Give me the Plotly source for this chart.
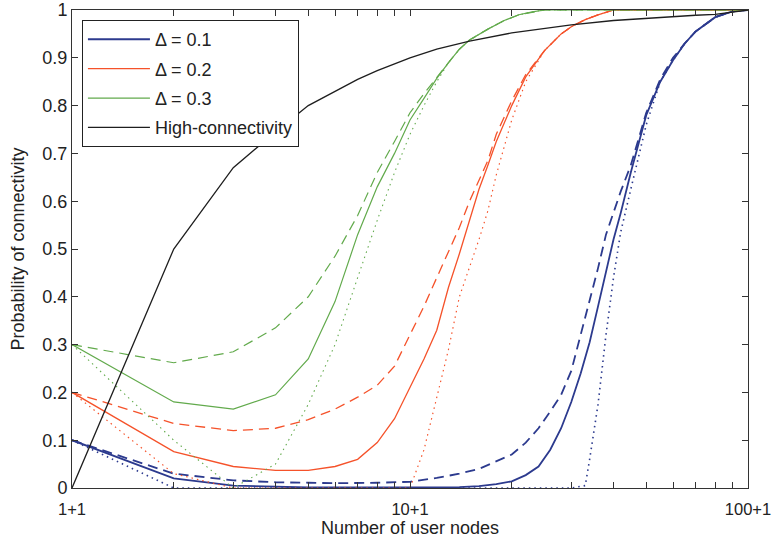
import plotly.graph_objects as go

# ---------------- data ----------------
hc_x = [1, 2, 3, 4, 5, 6, 7, 8, 9, 10, 12, 15, 20, 25, 30, 40, 50, 60, 70, 80, 90, 100]
hc_y = [0, 0.50, 0.67, 0.745, 0.80, 0.83, 0.855, 0.873, 0.888, 0.90, 0.918, 0.935,
        0.952, 0.962, 0.969, 0.978, 0.983, 0.986, 0.989, 0.991, 0.995, 1.0]

b_x = [1, 2, 3, 4, 5, 6, 8, 10, 12, 14, 16, 18, 20, 22, 24, 26, 28, 30, 32, 34, 36, 38,
       40, 42, 45, 50, 55, 60, 65, 70, 80, 90, 100]
b_solid = [0.1, 0.02, 0.005, 0.002, 0.001, 0.001, 0.001, 0.001, 0.001, 0.002, 0.004, 0.008,
           0.014, 0.027, 0.045, 0.08, 0.125, 0.18, 0.24, 0.305, 0.38, 0.455, 0.52, 0.575,
           0.66, 0.78, 0.85, 0.895, 0.93, 0.955, 0.985, 0.997, 1.0]
b_dash = [0.1, 0.03, 0.016, 0.012, 0.011, 0.010, 0.011, 0.013, 0.021, 0.03, 0.04, 0.055,
          0.07, 0.095, 0.125, 0.16, 0.195, 0.245, 0.32, 0.39, 0.46, 0.53, 0.575, 0.62,
          0.675, 0.785, 0.855, 0.9, 0.93, 0.955, 0.985, 0.997, 1.0]
b_dot_x = [1, 2, 4, 8, 16, 24, 30, 33, 34, 36, 38, 40, 42, 45, 50, 55, 60, 65, 70, 80, 90, 100]
b_dot = [0.1, 0, 0, 0, 0, 0, 0, 0.005, 0.06, 0.175, 0.32, 0.44, 0.535, 0.625, 0.76, 0.85,
         0.895, 0.93, 0.955, 0.985, 0.997, 1.0]

r_x = [1, 2, 3, 4, 5, 6, 7, 8, 9, 10, 11, 12, 13, 14, 15, 16, 17, 18, 20, 22, 25, 28, 30,
       33, 36, 40, 50, 60, 80, 100]
r_solid = [0.2, 0.076, 0.045, 0.037, 0.037, 0.045, 0.06, 0.095, 0.145, 0.21, 0.27, 0.33,
           0.42, 0.49, 0.56, 0.625, 0.675, 0.725, 0.80, 0.86, 0.915, 0.95, 0.965, 0.98,
           0.99, 1.0, 1.0, 1.0, 1.0, 1.0]
r_dash = [0.2, 0.135, 0.12, 0.125, 0.143, 0.165, 0.19, 0.215, 0.255, 0.32, 0.38, 0.44,
          0.495, 0.545, 0.60, 0.645, 0.685, 0.74, 0.81, 0.865, 0.915, 0.95, 0.965, 0.98,
          0.99, 1.0, 1.0, 1.0, 1.0, 1.0]
r_dot = [0.2, 0.03, 0, 0, 0, 0, 0, 0, 0, 0, 0.08, 0.19, 0.29, 0.40, 0.46, 0.52, 0.58,
         0.655, 0.77, 0.85, 0.915, 0.95, 0.965, 0.98, 0.99, 1.0, 1.0, 1.0, 1.0, 1.0]

g_x = [1, 2, 3, 4, 5, 6, 7, 8, 9, 10, 11, 12, 13, 14, 15, 17, 19, 21, 23, 25, 30, 50, 100]
g_solid = [0.3, 0.18, 0.165, 0.195, 0.27, 0.39, 0.53, 0.63, 0.70, 0.77, 0.815, 0.857,
           0.89, 0.918, 0.937, 0.96, 0.978, 0.99, 0.996, 1.0, 1.0, 1.0, 1.0]
g_dash = [0.3, 0.262, 0.285, 0.335, 0.40, 0.485, 0.57, 0.66, 0.725, 0.785, 0.825, 0.86,
          0.89, 0.918, 0.937, 0.96, 0.978, 0.99, 0.996, 1.0, 1.0, 1.0, 1.0]
g_dot = [0.3, 0.1, 0, 0.05, 0.175, 0.30, 0.44, 0.56, 0.66, 0.74, 0.80, 0.85,
         0.89, 0.918, 0.937, 0.96, 0.978, 0.99, 0.996, 1.0, 1.0, 1.0, 1.0]

x_tickvals = [1, 10, 100]
x_ticktext = ["1+1", "10+1", "100+1"]
y_tickvals = [0, 0.1, 0.2, 0.3, 0.4, 0.5, 0.6, 0.7, 0.8, 0.9, 1]
y_ticktext = ["0", "0.1", "0.2", "0.3", "0.4", "0.5", "0.6", "0.7", "0.8", "0.9", "1"]

BLUE = "#2c3a8e"
RED = "#f5522a"
GREEN = "#62aa4c"
BLACK = "#1e1e1e"

FONT = "Liberation Sans, Arial, sans-serif"

fig = go.Figure()

series = [
    ("Δ = 0.1", BLUE, 1.8, b_x, b_solid, b_dash, b_dot_x, b_dot),
    ("Δ = 0.2", RED, 1.3, r_x, r_solid, r_dash, r_x, r_dot),
    ("Δ = 0.3", GREEN, 1.2, g_x, g_solid, g_dash, g_x, g_dot),
]

for i, (name, col, w, xs, ys, yd, xdot, ydot) in enumerate(series):
    grp = f"g{i}"
    fig.add_trace(go.Scatter(x=xdot, y=ydot, mode="lines", showlegend=False, legendgroup=grp,
                             line=dict(color=col, width=w * 0.9, dash="1.5px,4px"), hoverinfo="skip"))
    fig.add_trace(go.Scatter(x=xs, y=yd, mode="lines", showlegend=False, legendgroup=grp,
                             line=dict(color=col, width=w, dash="10px,6px"), hoverinfo="skip"))
    fig.add_trace(go.Scatter(x=xs, y=ys, mode="lines", name=name, legendgroup=grp,
                             line=dict(color=col, width=w)))

fig.add_trace(go.Scatter(x=hc_x, y=hc_y, mode="lines", name="High-connectivity",
                         legendgroup="g3", line=dict(color=BLACK, width=1.3)))

minor_vals = [v * m for m in (1, 10) for v in range(2, 10)]

fig.update_xaxes(
    type="log", range=[0, 2],
    tickvals=x_tickvals, ticktext=x_ticktext,
    ticks="inside", ticklen=6, tickcolor="#333", tickwidth=1,
    minor=dict(ticks="inside", ticklen=6, tickvals=minor_vals, tickcolor="#333", showgrid=False),
    showline=True, linecolor="#333", linewidth=1, mirror="allticks",
    showgrid=False, zeroline=False,
    ticklabeloverflow="allow", ticklabelstandoff=6,
    tickfont=dict(size=16.5, color="#222", family=FONT),
    title=dict(text="Number of user nodes", font=dict(size=18, color="#222", family=FONT), standoff=4),
)
fig.update_yaxes(
    range=[0, 1],
    tickvals=y_tickvals, ticktext=y_ticktext,
    ticks="inside", ticklen=6, tickcolor="#333", tickwidth=1,
    showline=True, linecolor="#333", linewidth=1, mirror="allticks",
    showgrid=False, zeroline=False,
    ticklabeloverflow="allow",
    tickfont=dict(size=18, color="#222", family=FONT),
    title=dict(text="Probability of connectivity", font=dict(size=18, color="#222", family=FONT), standoff=13),
)

fig.update_layout(
    width=772, height=546,
    margin=dict(l=72, r=24, t=10, b=58, autoexpand=False),
    paper_bgcolor="white", plot_bgcolor="white",
    font=dict(family=FONT, color="#222"),
    legend=dict(
        x=0.0147, y=0.979, xanchor="left", yanchor="top",
        bgcolor="white", bordercolor="#222", borderwidth=1,
        font=dict(size=18, family=FONT, color="#222"),
        itemwidth=62, tracegroupgap=3, traceorder="grouped",
    ),
    showlegend=True,
)

fig.write_html("out.html")
